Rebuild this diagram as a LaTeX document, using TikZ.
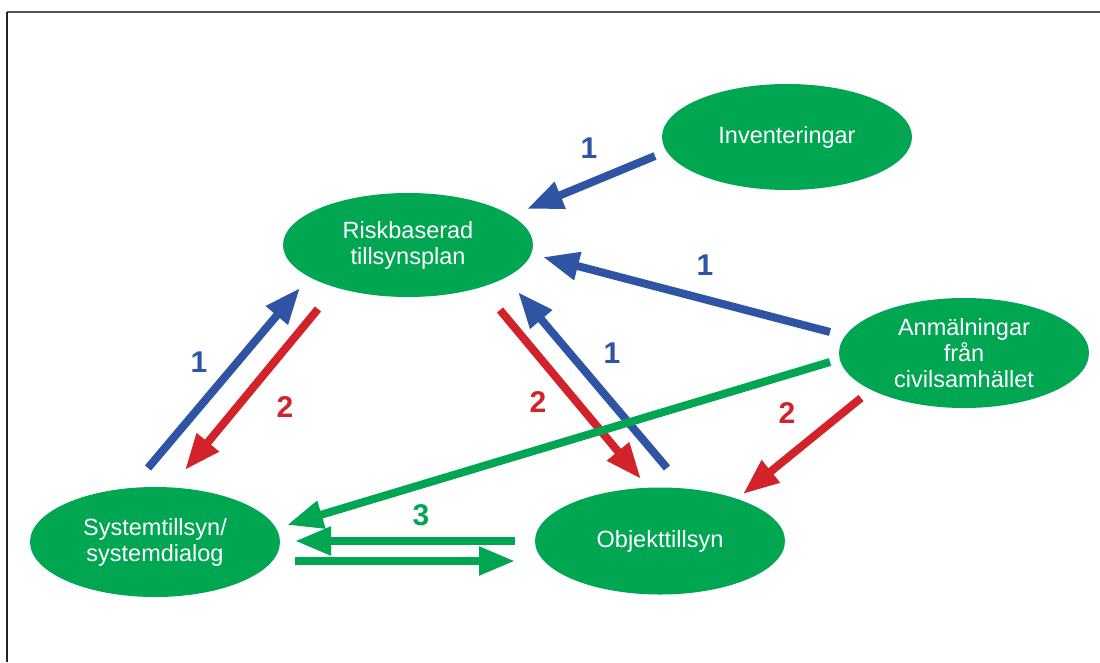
\documentclass[tikz,border=0pt]{standalone}
\usepackage{fontspec}
\setmainfont{Liberation Sans}
\usetikzlibrary{shapes.geometric,arrows.meta}
\definecolor{egreen}{HTML}{00A651}
\definecolor{eblue}{HTML}{2F54A4}
\definecolor{ered}{HTML}{D2232A}
\definecolor{frametop}{HTML}{555555}
\definecolor{frameleft}{HTML}{222222}
\tikzset{
  bubble/.style={ellipse, fill=egreen, inner sep=0pt, minimum width=250pt,
    text=white, align=center, font=\fontsize{23.5}{26}\selectfont},
  arr/.style={line width=8pt, -{Triangle[length=36pt,width=27pt]}},
  bluearr/.style={arr, draw=eblue, fill=eblue},
  redarr/.style={arr, draw=ered, fill=ered},
  greenarr/.style={arr, draw=egreen, fill=egreen},
  num/.style={font=\fontsize{30}{34}\selectfont\bfseries, inner sep=0pt}
}
\begin{document}
\begin{tikzpicture}[x=1pt,y=-1pt]
\useasboundingbox (0,0) rectangle (1100,662);
% frame
\draw[frametop, line width=1.5pt] (7,12) -- (1100,12);
\draw[frameleft, line width=1.5pt] (7,12) -- (7,662);
% nodes
\node[bubble, minimum height=106pt] (inv) at (787,137) {Inventeringar};
\node[bubble, minimum height=104pt] (risk) at (408,245) {Riskbaserad\\tillsynsplan};
\node[bubble, minimum height=110pt] (anm) at (964,353) {Anmälningar\\från\\civilsamhället};
\node[bubble, minimum height=110pt] (sys) at (155,542) {Systemtillsyn/\\systemdialog};
\node[bubble, minimum height=107pt] (obj) at (660,541) {Objekttillsyn};
% arrows
\draw[bluearr] ([shift={(-132,19)}]inv.center) -- ([shift={(119,-36)}]risk.center);
\draw[bluearr] ([shift={(-134,-21)}]anm.center) -- ([shift={(135,12)}]risk.center);
\draw[bluearr] ([shift={(-7,-74)}]sys.center) -- ([shift={(-108,43)}]risk.center);
\draw[redarr] ([shift={(-90,64)}]risk.center) -- ([shift={(30,-72)}]sys.center);
\draw[redarr] ([shift={(92,65)}]risk.center) -- ([shift={(-19,-62)}]obj.center);
\draw[bluearr] ([shift={(7,-73)}]obj.center) -- ([shift={(110,47)}]risk.center);
\draw[redarr] ([shift={(-103,45)}]anm.center) -- ([shift={(83,-47)}]obj.center);
\draw[greenarr] ([shift={(-134,9)}]anm.center) -- ([shift={(132,-17)}]sys.center);
\draw[greenarr] ([shift={(-145,0)}]obj.center) -- ([shift={(140,-1)}]sys.center);
\draw[greenarr] ([shift={(140,19)}]sys.center) -- ([shift={(-145,20)}]obj.center);
% labels
\node[num, text=eblue] (l1) at (589,148) {1};
\node[num, text=eblue] (l2) at (705,265) {1};
\node[num, text=eblue] (l3) at (199,362) {1};
\node[num, text=ered] (l4) at (285,407) {2};
\node[num, text=ered] (l5) at (538,402) {2};
\node[num, text=eblue] (l6) at (612,353) {1};
\node[num, text=ered] (l7) at (787,413) {2};
\node[num, text=egreen] (l8) at (421,515) {3};
\end{tikzpicture}
\end{document}
